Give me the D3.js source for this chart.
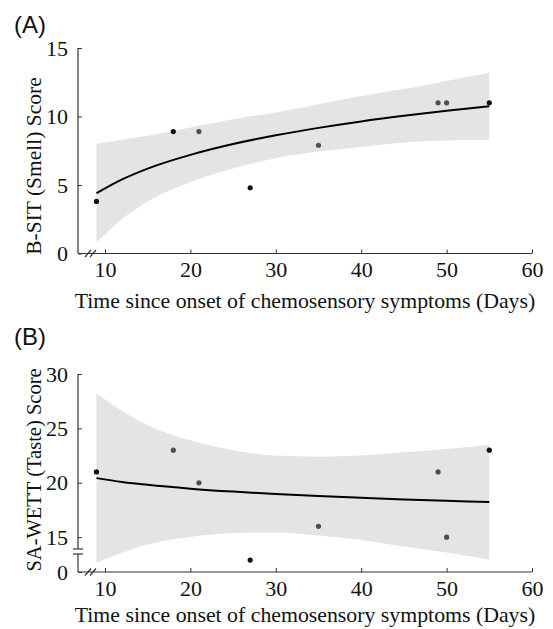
<!DOCTYPE html>
<html>
<head>
<meta charset="utf-8">
<script src="https://cdn.jsdelivr.net/npm/d3@7"></script>
<style>
  html, body { margin: 0; padding: 0; background: #fff; }
  svg { display: block; }
</style>
</head>
<body>
<svg id="chart" width="553" height="629"></svg>
<script>
// ---------- data ----------
const days = [9, 18, 21, 27, 35, 49, 50, 55];
const smellScores = [3.8, 8.9, 8.9, 4.8, 7.9, 11, 11, 11];
const smellGroup = [1, 1, 0, 1, 0, 0, 0, 1];      // 1 = black dot, 0 = grey dot
const tasteScores = [21, 23, 20, 12.9, 16, 21, 15, 23];
const tasteGroup = [1, 0, 0, 1, 0, 0, 0, 1];

const fitDays = [9, 12, 15, 20, 25, 30, 35, 40, 45, 50, 55];
const smellFit = [4.40, 5.41, 6.20, 7.20, 7.99, 8.63, 9.17, 9.64, 10.05, 10.42, 10.75];
const smellUpper = [8.0, 8.3, 8.6, 9.2, 9.8, 10.3, 10.9, 11.5, 12.0, 12.6, 13.2];
const smellLower = [0.8, 2.52, 3.8, 5.2, 6.2, 6.96, 7.44, 7.78, 8.1, 8.24, 8.3];
const tasteFit = [20.43, 20.08, 19.81, 19.46, 19.19, 18.97, 18.78, 18.62, 18.47, 18.35, 18.23];
const tasteUpper = [28.2, 26.6, 25.3, 23.9, 23.0, 22.5, 22.4, 22.5, 22.8, 23.1, 23.5];
const tasteLower = [12.66, 13.56, 14.32, 15.02, 15.38, 15.44, 15.16, 14.74, 14.14, 13.6, 12.96];

const xTicks = [10, 20, 30, 40, 50, 60];
const smellTicks = [0, 5, 10, 15];
const smellTickLabels = ["0", "5", "10", "15"];
const tasteTicks = [11.8, 15, 20, 25, 30];
const tasteTickLabels = ["0", "15", "20", "25", "30"];

const xTitle = "Time since onset of chemosensory symptoms (Days)";

// ---------- drawing ----------
const svg = d3.select("#chart");
const serif = "'Liberation Serif', 'Times New Roman', serif";
const sans = "'Liberation Sans', Arial, sans-serif";
const axisColor = "#333";

function panel(opt) {
  const g = svg.append("g");
  const x = d3.scaleLinear().domain([10, 60]).range([105, 532]);
  const y = d3.scaleLinear().domain(opt.yDomain).range(opt.yRange);
  const axX = 78;
  const base = opt.yRange[0];

  // band
  const bandData = fitDays.map((d, i) => ({d, lo: opt.lower[i], hi: opt.upper[i], f: opt.fit[i]}));
  g.append("path")
    .datum(bandData)
    .attr("fill", "#e4e4e4")
    .attr("d", d3.area().curve(d3.curveMonotoneX)
      .x(p => x(p.d)).y0(p => y(p.lo)).y1(p => y(p.hi)));

  // fit line
  g.append("path")
    .datum(bandData)
    .attr("fill", "none")
    .attr("stroke", "#000")
    .attr("stroke-width", 2)
    .attr("d", d3.line().curve(d3.curveMonotoneX).x(p => x(p.d)).y(p => y(p.f)));

  // points
  g.selectAll("circle.pt")
    .data(days.map((d, i) => ({d, v: opt.scores[i], grp: opt.group[i]})))
    .join("circle")
    .attr("class", "pt")
    .attr("cx", p => x(p.d))
    .attr("cy", p => y(p.v))
    .attr("r", 2.6)
    .attr("fill", p => p.grp ? "#111" : "#4f4f4f");

  // x axis
  const xa = g.append("g").attr("transform", `translate(0,${base})`)
    .call(d3.axisBottom(x).tickValues(xTicks).tickSizeInner(-4).tickSizeOuter(0).tickPadding(8));
  xa.select(".domain").remove();
  xa.selectAll("line").attr("stroke", axisColor);
  xa.selectAll("text").attr("font-family", serif).attr("font-size", 22).attr("fill", "#111");
  g.append("line").attr("x1", axX).attr("x2", x(60)).attr("y1", base).attr("y2", base)
    .attr("stroke", axisColor).attr("stroke-width", 1.2);
  // x break marks
  [88, 93].forEach(bx => {
    g.append("line").attr("x1", bx - 3).attr("y1", base + 3.5).attr("x2", bx + 3).attr("y2", base - 3.5)
      .attr("stroke", axisColor).attr("stroke-width", 1.2);
  });

  // y axis
  const ya = g.append("g").attr("transform", `translate(${axX},0)`)
    .call(d3.axisLeft(y).tickValues(opt.ticks).tickFormat((d, i) => opt.tickLabels[i])
      .tickSizeInner(-4).tickSizeOuter(0).tickPadding(10));
  ya.select(".domain").remove();
  ya.selectAll("line").attr("stroke", axisColor);
  ya.selectAll("text").attr("font-family", serif).attr("font-size", 22).attr("fill", "#111");
  if (opt.yBreak) {
    const [b1, b2] = opt.yBreak;
    g.append("line").attr("x1", axX).attr("x2", axX).attr("y1", opt.yRange[1]).attr("y2", b1)
      .attr("stroke", axisColor).attr("stroke-width", 1.2);
    g.append("line").attr("x1", axX).attr("x2", axX).attr("y1", b2).attr("y2", base)
      .attr("stroke", axisColor).attr("stroke-width", 1.2);
    [b1, b2].forEach(by => g.append("line").attr("x1", axX - 5).attr("x2", axX + 5)
      .attr("y1", by).attr("y2", by).attr("stroke", axisColor).attr("stroke-width", 1.2));
  } else {
    g.append("line").attr("x1", axX).attr("x2", axX).attr("y1", opt.yRange[1]).attr("y2", base)
      .attr("stroke", axisColor).attr("stroke-width", 1.2);
  }

  // titles
  g.append("text").attr("x", 305).attr("y", base + opt.xTitleOffset)
    .attr("text-anchor", "middle").attr("font-family", serif).attr("font-size", 21.8).attr("fill", "#111")
    .text(xTitle);
  g.append("text")
    .attr("transform", `translate(41,${opt.yTitleY}) rotate(-90)`)
    .attr("text-anchor", "middle").attr("font-family", serif).attr("font-size", opt.yTitleSize).attr("fill", "#111")
    .text(opt.yTitle);
  g.append("text").attr("x", 14).attr("y", opt.labelY)
    .attr("font-family", sans).attr("font-size", 24).attr("fill", "#111")
    .text(opt.label);
}

panel({
  label: "(A)", labelY: 33,
  yDomain: [0, 15], yRange: [253.5, 48],
  ticks: smellTicks, tickLabels: smellTickLabels,
  scores: smellScores, group: smellGroup,
  fit: smellFit, upper: smellUpper, lower: smellLower,
  yTitle: "B-SIT (Smell) Score", yTitleY: 166, yTitleSize: 21.5,
  xTitleOffset: 54
});

panel({
  label: "(B)", labelY: 345,
  yDomain: [11.8, 30], yRange: [572, 374],
  ticks: tasteTicks, tickLabels: tasteTickLabels,
  scores: tasteScores, group: tasteGroup,
  fit: tasteFit, upper: tasteUpper, lower: tasteLower,
  yTitle: "SA-WETT (Taste) Score", yTitleY: 470, yTitleSize: 20.5,
  yBreak: [549, 554],
  xTitleOffset: 50
});
</script>
</body>
</html>
